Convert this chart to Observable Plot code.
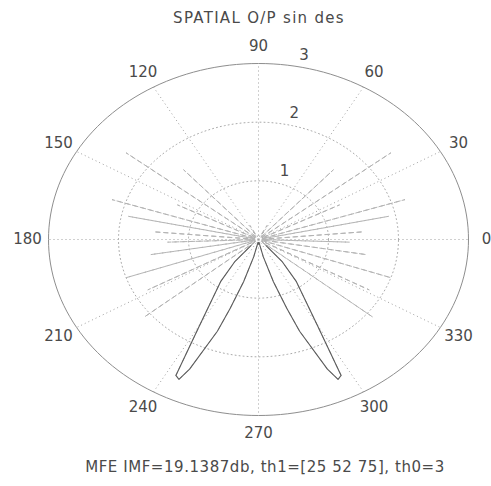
<!DOCTYPE html>
<html><head><meta charset="utf-8">
<script src="https://cdn.jsdelivr.net/npm/d3@7"></script>
<script src="https://cdn.jsdelivr.net/npm/@observablehq/plot@0.6"></script>
<style>
html,body{margin:0;padding:0;background:#fff;}
#wrap{position:relative;width:491px;height:486px;overflow:hidden;font-family:"DejaVu Sans",sans-serif;color:#4a4a4a;}
#chart{position:absolute;left:0;top:0;}
#title{position:absolute;left:0;width:518px;top:9px;text-align:center;font-size:15px;letter-spacing:1.3px;line-height:18px;}
#caption{position:absolute;left:0;width:530px;top:458px;text-align:center;font-size:15px;letter-spacing:0.55px;line-height:18px;}
</style>
</head><body>
<div id="wrap"><div id="chart"></div><div id="title"></div><div id="caption"></div></div>
<script>
const titleText = "SPATIAL O/P sin des";
const captionText = "MFE IMF=19.1387db, th1=[25 52 75], th0=3";
const radiusTicks = [1, 2, 3];
const angleTicks = [0, 30, 60, 90, 120, 150, 180, 210, 240, 270, 300, 330];
// pattern (angle in degrees, radius)
const patternDeg = [0, 3.5, 5, 6.5, 10.5, 12, 13.5, 16.5, 18, 19.5, 25.5, 27, 28.5, 36.5, 38, 39.5, 46.5, 48, 49.5, 56, 63, 70, 90, 110, 117, 124,
  130.5, 132, 133.5, 140.5, 142, 143.5, 151.5, 153, 154.5, 160.5, 162, 163.5, 166.5, 168, 169.5, 173.5, 175, 176.5, 180.5, 182, 183.5,
  188, 189.5, 191, 197.5, 199, 200.5, 207, 208.5, 210, 217.5, 219, 221, 224, 228, 233, 240, 243, 244.5, 246, 249.4, 251, 253.5, 257, 262,
  270, 278, 283, 286.5, 289, 290.6, 294, 295.5, 297, 300, 307, 312, 316, 319, 321, 322.5, 330, 331.5, 333, 339.5, 341, 342.5,
  349, 350.5, 352, 356.5, 358, 360];
const patternR = [0.05, 0.05, 1.5, 0.05, 0.05, 1.9, 0.05, 0.05, 2.2, 0.05, 0.05, 1.3, 0.05, 0.05, 2.4, 0.05, 0.05, 1.6, 0.05, 0.05, 0.27, 0.05, 0.08, 0.05, 0.27, 0.05,
  0.05, 1.6, 0.05, 0.05, 2.4, 0.05, 0.05, 1.3, 0.05, 0.05, 2.2, 0.05, 0.05, 1.9, 0.05, 0.05, 1.5, 0.05, 0.05, 1.3, 0.05,
  0.05, 1.56, 0.05, 0.05, 2.0, 0.05, 0.05, 1.8, 0.05, 0.05, 2.1, 0.05, 0.15, 0.5, 0.9, 1.66, 2.6, 2.64, 2.42, 1.67, 1.24, 0.75, 0.3, 0.05,
  0.08, 0.05, 0.3, 0.75, 1.24, 1.67, 2.42, 2.64, 2.6, 1.66, 0.9, 0.5, 0.15, 0.05, 2.1, 0.05, 0.05, 1.8, 0.05, 0.05, 2.0, 0.05,
  0.05, 1.56, 0.05, 0.05, 1.3, 0.05];

const rad = d => d * Math.PI / 180;
const rmax = d3.max(radiusTicks);
const pattern = patternDeg.map((d, i) => ({deg: d, x: patternR[i] * Math.cos(rad(d)), y: patternR[i] * Math.sin(rad(d))}));
const rings = radiusTicks.flatMap(r => d3.range(0, 361, 2).map(a => ({r, x: r * Math.cos(rad(a)), y: r * Math.sin(rad(a))})));
const labelOpts = {x: a => 1.1 * rmax * Math.cos(rad(a)), y: a => 1.1 * rmax * Math.sin(rad(a)), text: a => String(a), fill: "#4a4a4a", fontSize: 15};

const plot = Plot.plot({
  width: 491, height: 486,
  marginLeft: 48, marginRight: 23, marginTop: 63, marginBottom: 71,
  x: {domain: [-rmax, rmax], axis: null},
  y: {domain: [-rmax, rmax], axis: null},
  style: {fontFamily: "DejaVu Sans, sans-serif", fontSize: "15px", background: "white", overflow: "visible"},
  marks: [
    Plot.link(angleTicks, {x1: () => 0, y1: () => 0, x2: a => rmax * Math.cos(rad(a)), y2: a => rmax * Math.sin(rad(a)), stroke: "#a0a0a0", strokeWidth: 1, strokeDasharray: "1,3"}),
    Plot.line(rings.filter(d => d.r < rmax), {x: "x", y: "y", z: "r", stroke: "#aaaaaa", strokeWidth: 1, strokeDasharray: "1,3"}),
    Plot.line(rings.filter(d => d.r === rmax), {x: "x", y: "y", stroke: "#8e8e8e", strokeWidth: 1}),
    Plot.line(pattern, {x: "x", y: "y", stroke: "#b4b4b4", strokeWidth: 1, strokeDasharray: "4,4"}),
    Plot.line(pattern.filter(d => d.deg >= 222 && d.deg <= 318), {x: "x", y: "y", stroke: "#5c5c5c", strokeWidth: 1.1}),
    Plot.text(angleTicks.filter(a => a !== 0), labelOpts),
    Plot.text(angleTicks.filter(a => a === 0), {...labelOpts, dx: -3}),
    Plot.text(radiusTicks, {x: r => (r + 0.05) * Math.cos(rad(82)), y: r => (r + 0.05) * Math.sin(rad(82)), text: r => String(r), textAnchor: "start", lineAnchor: "bottom", dx: 11, dy: -2, fill: "#4a4a4a", fontSize: 15})
  ]
});
document.getElementById("chart").appendChild(plot);
document.getElementById("title").textContent = titleText;
document.getElementById("caption").textContent = captionText;
</script>
</body></html>
